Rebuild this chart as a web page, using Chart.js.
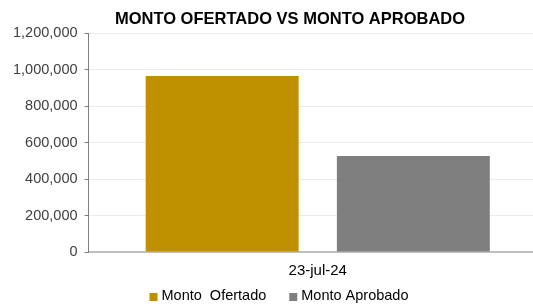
<!DOCTYPE html>
<html>
<head>
<meta charset="utf-8">
<script src="https://cdn.jsdelivr.net/npm/chart.js@4/dist/chart.umd.min.js"></script>
<style>
html,body{margin:0;padding:0;background:#fff;overflow:hidden;width:533px;height:304px;}
#wrap{position:absolute;left:0;top:0;width:547px;height:304px;}
</style>
</head>
<body>
<div id="wrap"><canvas id="c" width="547" height="304"></canvas></div>
<script>
const categories = ["23-jul-24"];
const seriesNames = ["Monto  Ofertado", "Monto Aprobado"];
const montoOfertado = [964000];
const montoAprobado = [526000];
const yTicks = [0, 200000, 400000, 600000, 800000, 1000000, 1200000];
const titleText = "MONTO OFERTADO VS MONTO APROBADO";
const FONT = '"Liberation Sans", Arial, sans-serif';

const titlePlugin = {
  id: 'customTitle',
  afterDraw(chart) {
    const ctx = chart.ctx;
    ctx.save();
    ctx.font = 'bold 16.5px ' + FONT;
    ctx.fillStyle = '#000';
    ctx.textAlign = 'center';
    ctx.textBaseline = 'middle';
    ctx.fillText(titleText, 290, 19);
    ctx.restore();
  }
};

const legendPlugin = {
  id: 'customLegend',
  afterDraw(chart) {
    const ctx = chart.ctx;
    const box = 8, gapBox = 4, gapItem = 23, cy = 296, cx = 279;
    ctx.save();
    ctx.font = '14.5px ' + FONT;
    ctx.textBaseline = 'middle';
    ctx.textAlign = 'left';
    const items = chart.data.datasets.map(ds => ({ text: ds.label, color: ds.backgroundColor, w: ctx.measureText(ds.label).width }));
    let total = 0;
    items.forEach((it, i) => { total += box + gapBox + it.w + (i < items.length - 1 ? gapItem : 0); });
    let x = cx - total / 2;
    items.forEach(it => {
      ctx.fillStyle = it.color;
      ctx.fillRect(x, cy - 3, box, box);
      ctx.fillStyle = '#000';
      ctx.fillText(it.text, x + box + gapBox, cy);
      x += box + gapBox + it.w + gapItem;
    });
    ctx.restore();
  }
};

new Chart(document.getElementById('c'), {
  type: 'bar',
  data: {
    labels: categories,
    datasets: [
      { label: seriesNames[0], data: montoOfertado, backgroundColor: '#BF9000', categoryPercentage: 0.834, barPercentage: 0.8 },
      { label: seriesNames[1], data: montoAprobado, backgroundColor: '#7F7F7F', categoryPercentage: 0.834, barPercentage: 0.8 }
    ]
  },
  plugins: [titlePlugin, legendPlugin],
  options: {
    responsive: false,
    animation: false,
    layout: { padding: { top: 33, left: 6, right: 0, bottom: 14 } },
    plugins: {
      title: { display: false },
      tooltip: { enabled: false },
      legend: { display: false }
    },
    scales: {
      x: {
        grid: { display: false, drawTicks: false },
        border: { color: '#BFBFBF', width: 2 },
        ticks: { color: '#000', padding: 10, font: { family: FONT, size: 15 } }
      },
      y: {
        min: 0, max: 1200000,
        afterBuildTicks(scale) { scale.ticks = yTicks.map(v => ({ value: v })); },
        grid: { color: '#EBEBEB', tickColor: '#7F7F7F', tickLength: 4 },
        border: { color: '#7F7F7F', width: 1 },
        ticks: {
          color: '#404040', padding: 7,
          font: { family: FONT, size: 14.5 },
          callback: v => v.toLocaleString('en-US')
        }
      }
    }
  }
});
</script>
</body>
</html>
